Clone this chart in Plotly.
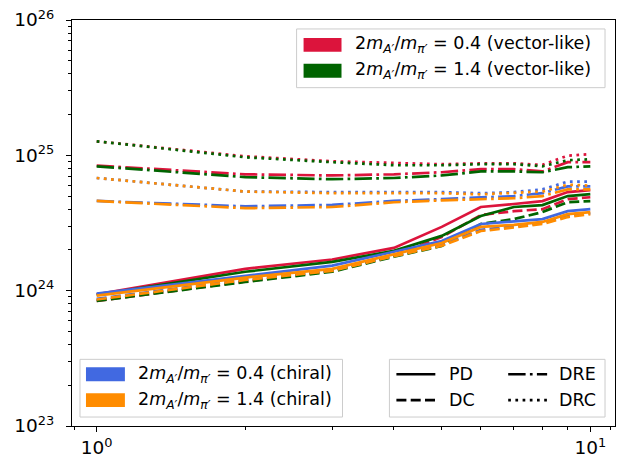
import plotly.graph_objects as go

# ---------------- data ----------------
x_vals = [1, 2, 3, 4, 5, 6, 7, 8, 9, 10]

# vector-like, 2m_A'/m_pi' = 0.4 (crimson)
crimson_PD  = [9.4e23, 1.45e24, 1.70e24, 2.07e24, 2.96e24, 4.15e24, 4.37e24, 4.59e24, 5.35e24, 5.53e24]
crimson_DC  = [8.4e23, 1.17e24, 1.40e24, 1.82e24, 2.49e24, 3.62e24, 3.87e24, 4.00e24, 4.75e24, 4.90e24]
crimson_DRE = [8.4e24, 7.24e24, 7.10e24, 7.24e24, 7.50e24, 7.90e24, 7.90e24, 7.60e24, 8.90e24, 8.90e24]
crimson_DRC = [1.27e25, 9.84e24, 9.04e24, 8.73e24, 8.60e24, 8.73e24, 8.73e24, 8.50e24, 9.95e24, 1.02e25]

# vector-like, 2m_A'/m_pi' = 1.4 (darkgreen)
green_PD  = [9.3e23, 1.38e24, 1.63e24, 1.97e24, 2.54e24, 3.56e24, 4.15e24, 4.29e24, 5.00e24, 5.17e24]
green_DC  = [8.4e23, 1.16e24, 1.38e24, 1.78e24, 2.14e24, 3.11e24, 3.38e24, 3.81e24, 4.51e24, 4.59e24]
green_DRE = [8.3e24, 6.90e24, 6.66e24, 6.80e24, 7.10e24, 7.60e24, 7.60e24, 7.50e24, 8.17e24, 8.30e24]
green_DRC = [1.27e25, 9.67e24, 8.90e24, 8.45e24, 8.45e24, 8.60e24, 8.60e24, 8.30e24, 9.20e24, 9.35e24]

# chiral, 2m_A'/m_pi' = 0.4 (royalblue)
blue_PD  = [9.5e23, 1.29e24, 1.53e24, 1.94e24, 2.33e24, 3.11e24, 3.27e24, 3.38e24, 3.87e24, 4.00e24]
blue_DC  = [8.7e23, 1.21e24, 1.42e24, 1.82e24, 2.18e24, 2.82e24, 2.98e24, 3.17e24, 3.56e24, 3.74e24]
blue_DRE = [4.6e24, 4.20e24, 4.30e24, 4.60e24, 4.75e24, 4.90e24, 5.00e24, 5.25e24, 5.90e24, 5.90e24]
blue_DRC = [6.8e24, 5.40e24, 5.35e24, 5.35e24, 5.35e24, 5.25e24, 5.35e24, 5.60e24, 6.40e24, 6.40e24]

# chiral, 2m_A'/m_pi' = 1.4 (darkorange)
orange_PD  = [9.2e23, 1.25e24, 1.45e24, 1.87e24, 2.25e24, 2.96e24, 3.06e24, 3.22e24, 3.68e24, 3.81e24]
orange_DC  = [8.6e23, 1.20e24, 1.40e24, 1.80e24, 2.15e24, 2.76e24, 2.93e24, 3.11e24, 3.50e24, 3.68e24]
orange_DRE = [4.6e24, 4.07e24, 4.15e24, 4.50e24, 4.65e24, 4.75e24, 4.82e24, 5.00e24, 5.60e24, 5.60e24]
orange_DRC = [6.8e24, 5.40e24, 5.25e24, 5.25e24, 5.25e24, 5.15e24, 5.25e24, 5.40e24, 6.07e24, 5.97e24]

color_names = ["crimson", "darkgreen", "royalblue", "darkorange"]
color_hex = {"crimson": "#DC143C", "darkgreen": "#006400",
             "royalblue": "#4169E1", "darkorange": "#FF8C00"}
series = {
    "crimson":   {"PD": crimson_PD, "DC": crimson_DC, "DRE": crimson_DRE, "DRC": crimson_DRC},
    "darkgreen": {"PD": green_PD, "DC": green_DC, "DRE": green_DRE, "DRC": green_DRC},
    "royalblue": {"PD": blue_PD, "DC": blue_DC, "DRE": blue_DRE, "DRC": blue_DRC},
    "darkorange": {"PD": orange_PD, "DC": orange_DC, "DRE": orange_DRE, "DRC": orange_DRC},
}
style_names = ["PD", "DC", "DRE", "DRC"]

x_tickvals = [1, 10]
x_ticktext = ["10<sup>0</sup>", "10<sup>1</sup>"]
y_tickvals = [1e23, 1e24, 1e25, 1e26]
y_ticktext = ["10<sup>23</sup>", "10<sup>24</sup>", "10<sup>25</sup>", "10<sup>26</sup>"]

legend_color_labels = {
    "crimson": "2<i>m</i><sub><i>A′</i></sub>/<i>m</i><sub><i>π′</i></sub> = 0.4 (vector-like)",
    "darkgreen": "2<i>m</i><sub><i>A′</i></sub>/<i>m</i><sub><i>π′</i></sub> = 1.4 (vector-like)",
    "royalblue": "2<i>m</i><sub><i>A′</i></sub>/<i>m</i><sub><i>π′</i></sub> = 0.4 (chiral)",
    "darkorange": "2<i>m</i><sub><i>A′</i></sub>/<i>m</i><sub><i>π′</i></sub> = 1.4 (chiral)",
}

# ---------------- styling ----------------
W, H = 620, 462
L, R, T, B = 72, 4, 20, 34
PW, PH = W - L - R, H - T - B
LW = 2.7
dash_map = {"PD": "solid", "DC": "10px,4.3px", "DRE": "17.4px,4.3px,2.7px,4.3px",
            "DRC": "2.7px,4.5px"}
FONT = "DejaVu Sans"
FS_LEG = 17.5
FS_TICK = 18.5

fig = go.Figure()
for c in color_names:
    for s in style_names:
        fig.add_trace(go.Scatter(
            x=x_vals, y=series[c][s], mode="lines",
            line=dict(color=color_hex[c], width=LW, dash=dash_map[s]),
            showlegend=False, hoverinfo="skip"))


def px(xp):
    return (xp - L) / PW


def py(yp):
    return (T + PH - yp) / PH


shapes = []
annotations = []


def box(x0, y0, x1, y1):
    shapes.append(dict(type="rect", xref="paper", yref="paper",
                       x0=px(x0), x1=px(x1), y0=py(y1), y1=py(y0),
                       line=dict(color="#cccccc", width=1),
                       fillcolor="rgba(255,255,255,0.8)", layer="above"))


def patch(x0, x1, yc, col, h=14):
    shapes.append(dict(type="rect", xref="paper", yref="paper",
                       x0=px(x0), x1=px(x1), y0=py(yc + h / 2), y1=py(yc - h / 2),
                       line=dict(width=0), fillcolor=col, layer="above"))


def sample(x0, x1, yc, dash):
    shapes.append(dict(type="line", xref="paper", yref="paper",
                       x0=px(x0), x1=px(x1), y0=py(yc), y1=py(yc),
                       line=dict(color="black", width=LW, dash=dash), layer="above"))


def label(xl, yc, text):
    annotations.append(dict(xref="paper", yref="paper", x=px(xl), y=py(yc),
                            xanchor="left", yanchor="middle", text=text,
                            showarrow=False,
                            font=dict(family=FONT, size=FS_LEG, color="black")))


# top-right legend (vector-like)
box(297, 29, 606, 88)
for c, yc in zip(["crimson", "darkgreen"], [45, 71]):
    patch(304, 342, yc, color_hex[c])
    label(354, yc, legend_color_labels[c])

# bottom-left legend (chiral)
box(80, 361, 343, 419)
for c, yc in zip(["royalblue", "darkorange"], [376, 402]):
    patch(86, 125, yc, color_hex[c])
    label(136, yc, legend_color_labels[c])

# bottom-right legend (line styles)
box(390, 361, 606, 419)
for s, (xl0, xl1, xt, yc) in zip(style_names,
                                 [(397, 436, 448, 376), (397, 436, 448, 402),
                                  (509, 548, 558, 376), (509, 548, 558, 402)]):
    sample(xl0, xl1, yc, dash_map[s])
    label(xt, yc, s)

minor_x = [0.9, 2, 3, 4, 5, 6, 7, 8, 9, 11]
minor_y = [float(m) * 10.0 ** e for e in (23, 24, 25) for m in range(2, 10)]

axis_common = dict(showline=True, linecolor="black", linewidth=1.2, mirror=True,
                   showgrid=False, zeroline=False, ticks="outside", ticklen=5,
                   tickwidth=1, tickcolor="black",
                   tickfont=dict(family=FONT, size=FS_TICK, color="black"))

fig.update_layout(
    width=W, height=H,
    margin=dict(l=L, r=R, t=T, b=B),
    paper_bgcolor="white", plot_bgcolor="white",
    showlegend=False,
    shapes=shapes, annotations=annotations,
    xaxis=dict(type="log", range=[-0.05, 1.05], tickmode="array",
               tickvals=x_tickvals, ticktext=x_ticktext,
               minor=dict(tickmode="array", tickvals=minor_x, ticks="outside",
                          ticklen=3, tickwidth=0.8, tickcolor="black"),
               **axis_common),
    yaxis=dict(type="log", range=[23, 26], tickmode="array",
               tickvals=y_tickvals, ticktext=y_ticktext, ticklabelstandoff=8,
               minor=dict(tickmode="array", tickvals=minor_y, ticks="outside",
                          ticklen=3, tickwidth=0.8, tickcolor="black"),
               **axis_common),
)

fig.write_html("out.html")
